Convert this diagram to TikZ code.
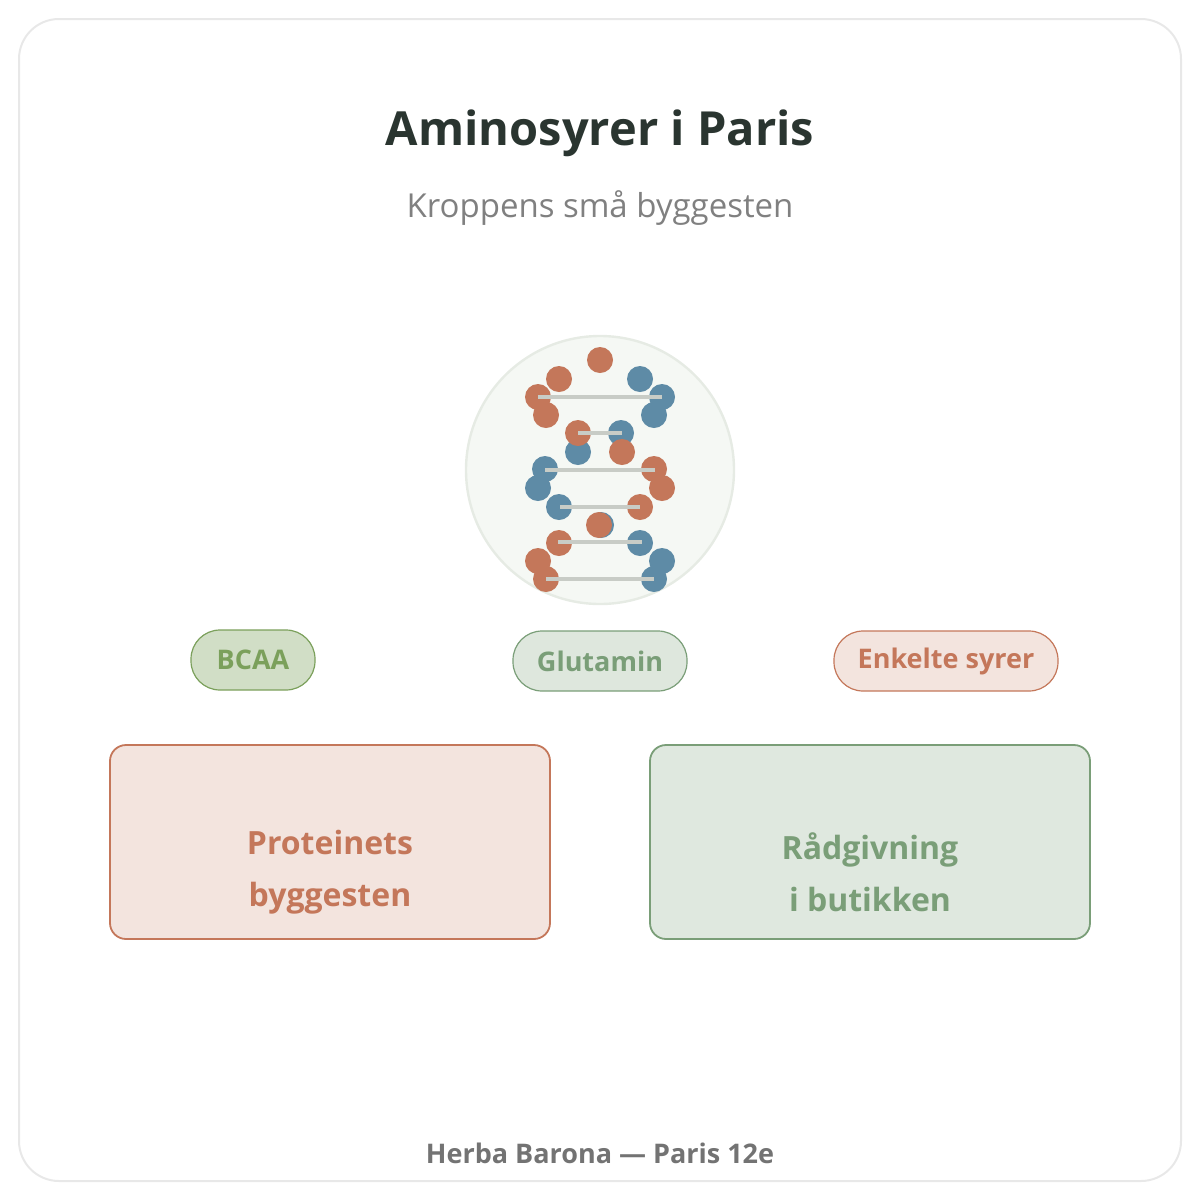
\documentclass[tikz,border=0pt]{standalone}
\usepackage{fontspec}
\setmainfont{Open Sans}
\definecolor{orn}{HTML}{C4775A}
\definecolor{blu}{HTML}{5E8BA6}
\definecolor{rung}{HTML}{C8CCC6}
\definecolor{grn}{HTML}{7A9E78}
\definecolor{lgrn}{HTML}{7BA05B}
\definecolor{ttl}{HTML}{2A3530}
\definecolor{ring}{HTML}{E6EBE4}
\definecolor{disc}{HTML}{F5F8F4}
\begin{document}
\begin{tikzpicture}[x=0.5pt,y=-0.5pt,
  pill/.style={rounded corners=14.5pt,minimum height=30pt,line width=0.6pt,font=\fontsize{13.5}{16}\selectfont\bfseries,inner sep=0pt},
  box/.style={rounded corners=8pt,minimum width=220pt,minimum height=97pt,line width=0.9pt},
  btxt/.style={font=\fontsize{16}{26}\selectfont\bfseries,align=center},
  od/.style={fill=orn},bd/.style={fill=blu},
  rg/.style={draw=rung,line width=2pt}]
\useasboundingbox (0,0) rectangle (1200,1200);
\node[draw=black!9,line width=1pt,rounded corners=20pt,minimum width=581pt,minimum height=581pt] (frame) at (600,600) {};
\node[font=\fontsize{23.5}{28}\selectfont\bfseries,text=ttl] (title) at (600,133) {Aminosyrer i Paris};
\node[font=\fontsize{16.5}{20}\selectfont,text=black!50] (sub) at (600,208) {Kroppens små byggesten};
\node[circle,draw=ring,fill=disc,line width=1.2pt,minimum size=134pt] (helix) at (600,470) {};
\foreach \x/\y in {640/379,662/397,654/415,621/433,578/452,545/469,538/488,559/507,601/525,640/543,662/561,654/579} \fill[bd] (\x,\y) circle (13);
\foreach \x/\y in {600/360,559/379,538/397,546/415,578/433,622/452,654/469,662/488,640/507,599/525,559/543,538/561,546/579} \fill[od] (\x,\y) circle (13);
\foreach \a/\b/\y in {538/662/397,578/622/433,545/655/470,560/640/507,558/642/542,546/654/579} \draw[rg] (\a,\y)--(\b,\y);
\node[pill,draw=lgrn,fill=lgrn!35,text=lgrn,minimum width=62pt] (bcaa) at (253,660) {BCAA};
\node[pill,draw=grn,fill=grn!25,text=grn,minimum width=87pt] (glu) at (600,661) {Glutamin};
\node[pill,draw=orn,fill=orn!20,text=orn,minimum width=112pt] (enk) at (946,661) {Enkelte syrer};
\node[box,draw=orn,fill=orn!20] (p) at (330,842) {};
\node[btxt,text=orn] (pt) at (330,872) {Proteinets\\byggesten};
\node[box,draw=grn,fill=grn!24] (r) at (870,842) {};
\node[btxt,text=grn] (rt) at (870,872) {Rådgivning\\i butikken};
\node[font=\fontsize{13.5}{16}\selectfont\bfseries,text=black!55] (foot) at (600,1153) {Herba Barona — Paris 12e};
\end{tikzpicture}
\end{document}
